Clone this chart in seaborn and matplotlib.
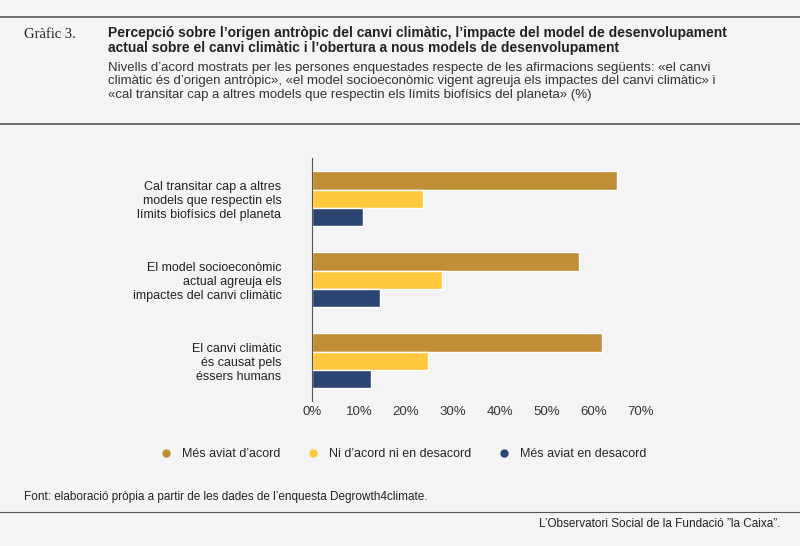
import matplotlib
matplotlib.use("Agg")
import matplotlib.pyplot as plt
import seaborn as sns
import pandas as pd
from matplotlib.lines import Line2D

categories = ["Cal transitar cap a altres\nmodels que respectin els\nlímits biofísics del planeta",
              "El model socioeconòmic\nactual agreuja els\nimpactes del canvi climàtic",
              "El canvi climàtic\nés causat pels\néssers humans"]
series = ["Més aviat d’acord", "Ni d’acord ni en desacord", "Més aviat en desacord"]
agree = [64.9, 56.8, 61.7]
neutral = [23.6, 27.7, 24.7]
disagree = [10.9, 14.5, 12.6]
ticks = [0, 10, 20, 30, 40, 50, 60, 70]
colors = ["#C08F35", "#FFC83D", "#2B4570"]
bg = "#F4F4F4"

rows = []
for i, c in enumerate(categories):
    for s, vals in zip(series, [agree, neutral, disagree]):
        rows.append({"cat": c, "series": s, "val": vals[i]})
df = pd.DataFrame(rows)

sns.set_style("white")
plt.rcParams['font.family'] = ['Liberation Sans', 'DejaVu Sans']
fig = plt.figure(figsize=(8, 5.46), dpi=100, facecolor=bg)
ax = fig.add_axes([0.39, 0.265, 0.429, 0.445], facecolor=bg)
sns.barplot(data=df, y="cat", x="val", hue="series", palette=colors, orient="h",
            order=categories, hue_order=series, width=0.68, saturation=1, ax=ax, legend=False)
ax.set_xlim(0, 73)
ax.set_xticks(ticks)
ax.set_xticklabels([f"{t}%" for t in ticks], fontsize=9.5, color="#333")
ax.tick_params(axis="y", labelsize=9, colors="#222", length=0, pad=22)
ax.tick_params(axis="x", length=0)
ax.set_xlabel(""); ax.set_ylabel("")
for sp in ["top", "right", "bottom"]:
    ax.spines[sp].set_visible(False)
ax.spines["left"].set_color("#555")
for lab in ax.get_yticklabels():
    lab.set_horizontalalignment("right")

handles = [Line2D([], [], marker="o", linestyle="", color=c, markersize=5) for c in colors]
fig.legend(handles, series, loc="center", bbox_to_anchor=(0.5, 0.168), ncol=3, frameon=False,
           fontsize=9, handletextpad=0.3, columnspacing=1.6)

fig.add_artist(Line2D([0, 1], [1 - 17/546]*2, color="#555", lw=1.2))
fig.add_artist(Line2D([0, 1], [1 - 124/546]*2, color="#555", lw=1.2))
fig.add_artist(Line2D([0, 1], [1 - 512/546]*2, color="#555", lw=0.8))
fig.text(0.03, 1 - 35/546, "Gràfic 3.", family="Liberation Serif", fontsize=10.5, va="center", color="#222")
fig.text(0.135, 1 - 26/546, "Percepció sobre l’origen antròpic del canvi climàtic, l’impacte del model de desenvolupament\nactual sobre el canvi climàtic i l’obertura a nous models de desenvolupament",
         fontsize=10, weight="bold", va="top", ha="left", color="#222", linespacing=1.1)
fig.text(0.135, 1 - 62/546, "Nivells d’acord mostrats per les persones enquestades respecte de les afirmacions següents: «el canvi\nclimàtic és d’origen antròpic», «el model socioeconòmic vigent agreuja els impactes del canvi climàtic» i\n«cal transitar cap a altres models que respectin els límits biofísics del planeta» (%)",
         fontsize=9.5, va="top", ha="left", color="#333", linespacing=1.15)
fig.text(0.03, 1 - 497/546, "Font: elaboració pròpia a partir de les dades de l’enquesta Degrowth4climate.", fontsize=8.5, va="center", color="#222")
fig.text(0.975, 1 - 524/546, "L’Observatori Social de la Fundació ”la Caixa”.", fontsize=8.5, va="center", ha="right", color="#222")
fig.savefig("out.png", dpi=100, facecolor=bg)
